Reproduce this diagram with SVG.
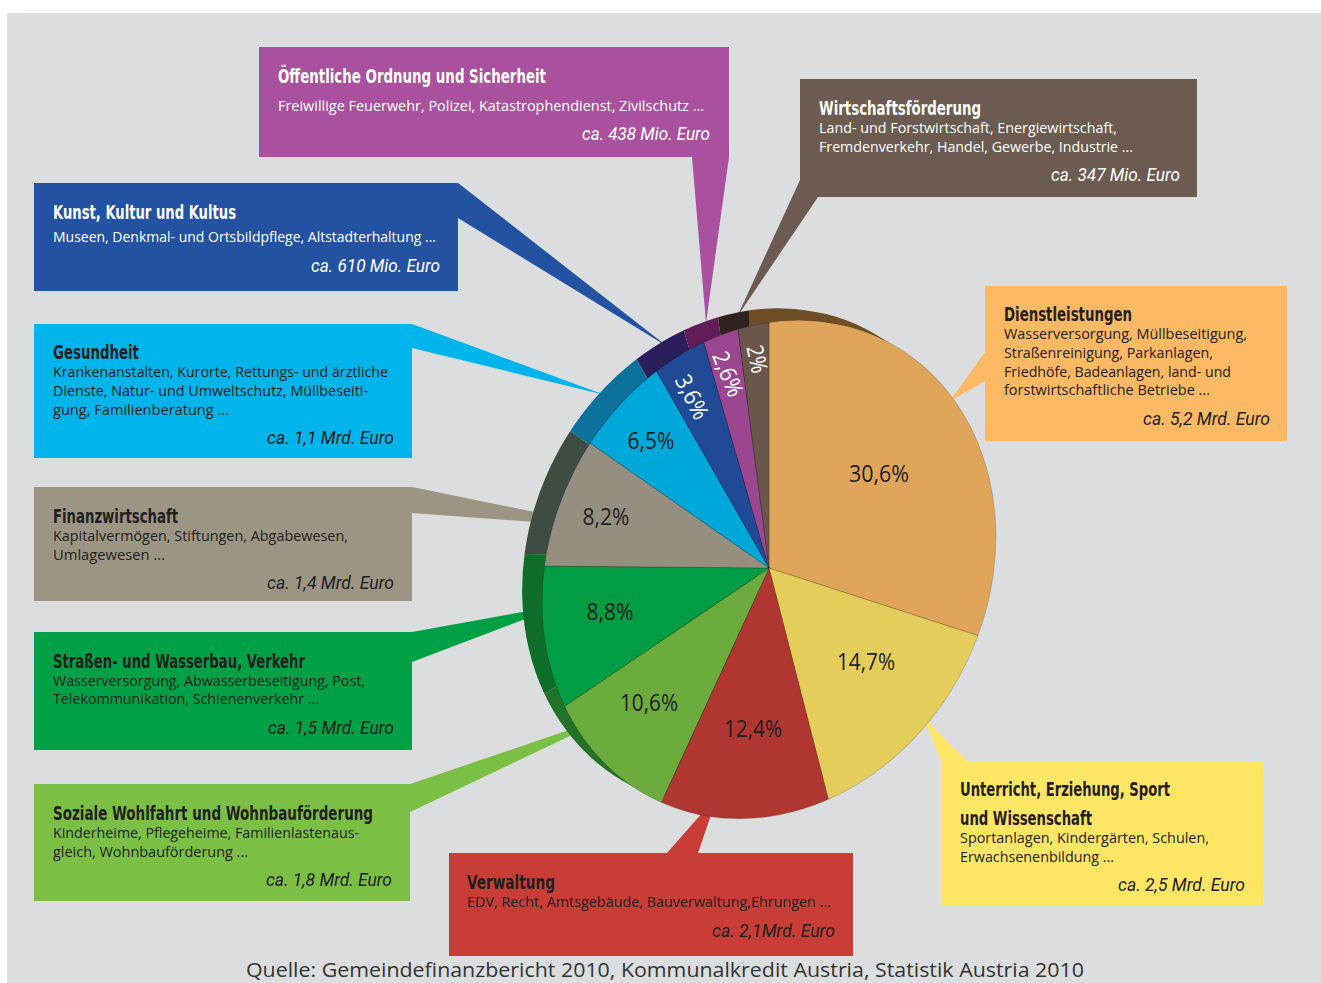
<svg xmlns="http://www.w3.org/2000/svg" width="1321" height="983" viewBox="0 0 1321 983">
<style>
.t{font-family:'Liberation Sans Narrow','DejaVu Sans Condensed',Roboto,sans-serif;font-weight:bold;font-size:19px}
.b{font-family:'Open Sans','Noto Sans',sans-serif;font-size:15px}
.a{font-family:'Liberation Sans Narrow',Roboto,'Open Sans',sans-serif;font-style:italic;font-size:19px;text-anchor:end}
.w{fill:#fff}
.d{fill:#231f20}
.p{font-family:'Open Sans','Noto Sans',sans-serif;font-size:23px;text-anchor:middle}
.sl{stroke:#000;stroke-opacity:0.25;stroke-width:0.8}
</style>
<defs>
<clipPath id="face"><ellipse cx="0" cy="0" rx="218.3" ry="256.7" transform="translate(769 569.5) rotate(27.2)"/></clipPath>
</defs>
<rect x="0" y="0" width="1321" height="983" fill="#ffffff"/>
<rect x="7" y="13" width="1314" height="970" fill="#dcdddf"/>

<g id="connectors">
<polygon points="692,157 729,157 706,323" fill="#a9509e"/>
<polygon points="800,180 800,197 818,197 737,317" fill="#6b5b50"/>
<polygon points="458,183 458,218 668,347" fill="#2352a3"/>
<polygon points="412,324 412,348 605,395" fill="#00b5ec"/>
<polygon points="412,487 412,513 535,522 535,512" fill="#9c9584"/>
<polygon points="412,632 412,662 528,618 528,611" fill="#00a146"/>
<polygon points="410,784 410,812 572,735 572,729" fill="#7bbf45"/>
<polygon points="667,853 698,853 712,812 703,812" fill="#c83e37"/>
<polygon points="924,718 942,763 969,763" fill="#ffe564"/>
<polygon points="985,352 985,381 950,401" fill="#fdb863"/>
</g>

<g id="pie">
<g transform="translate(-20 -12)" clip-path="url(#face)">
<polygon points="769,568 769,199 1045,313 1112.5,511 1084,670" fill="#6f4d26"/>
<polygon points="769,568 1084,670 857.5,913" fill="#b09a3a"/>
<polygon points="769,568 857.5,913 608.5,917.5" fill="#7a2420"/>
<polygon points="769,568 608.5,917.5 463,775" fill="#23722a"/>
<polygon points="769,568 463,775 430,565" fill="#106e2b"/>
<polygon points="769,568 430,565 500.5,380.5" fill="#3f4c42"/>
<polygon points="769,568 500.5,380.5 601,274" fill="#0b729c"/>
<polygon points="769,568 601,274 671.5,230.5" fill="#2a1f5c"/>
<polygon points="769,568 671.5,230.5 722.5,209.5" fill="#621d58"/>
<polygon points="769,568 722.5,209.5 769,199" fill="#302220"/>
</g>
<g clip-path="url(#face)" class="sl">
<polygon points="769,568 769,199 1045,313 1112.5,511 1084,670" fill="#dfa55a"/>
<polygon points="769,568 1084,670 857.5,913" fill="#e4cd5a"/>
<polygon points="769,568 857.5,913 608.5,917.5" fill="#b03731"/>
<polygon points="769,568 608.5,917.5 463,775" fill="#6cac3e"/>
<polygon points="769,568 463,775 430,565" fill="#009d45"/>
<polygon points="769,568 430,565 500.5,380.5" fill="#958f7f"/>
<polygon points="769,568 500.5,380.5 601,274" fill="#00a7d9"/>
<polygon points="769,568 601,274 671.5,230.5" fill="#204a96"/>
<polygon points="769,568 671.5,230.5 722.5,209.5" fill="#9a4690"/>
<polygon points="769,568 722.5,209.5 769,199" fill="#6a574c"/>
</g>
<ellipse cx="0" cy="0" rx="218.3" ry="256.7" transform="translate(769 569.5) rotate(27.2)" fill="none" stroke="#000" stroke-opacity="0.15" stroke-width="1"/>
<text class="p d" x="879" y="482" textLength="60" lengthAdjust="spacingAndGlyphs">30,6%</text>
<text class="p d" x="866" y="670" textLength="58" lengthAdjust="spacingAndGlyphs">14,7%</text>
<text class="p d" x="753" y="737" textLength="58" lengthAdjust="spacingAndGlyphs">12,4%</text>
<text class="p d" x="649" y="711" textLength="58" lengthAdjust="spacingAndGlyphs">10,6%</text>
<text class="p d" x="610" y="620" textLength="47" lengthAdjust="spacingAndGlyphs">8,8%</text>
<text class="p d" x="606" y="525" textLength="47" lengthAdjust="spacingAndGlyphs">8,2%</text>
<text class="p d" x="651" y="449" textLength="47" lengthAdjust="spacingAndGlyphs">6,5%</text>
<g transform="translate(692 397) rotate(63)"><text class="p w" x="0" y="8" textLength="47" lengthAdjust="spacingAndGlyphs">3,6%</text></g>
<g transform="translate(728 374) rotate(68)"><text class="p w" x="0" y="8" textLength="47" lengthAdjust="spacingAndGlyphs">2,6%</text></g>
<g transform="translate(757 359) rotate(78)"><text class="p w" x="0" y="8" textLength="28" lengthAdjust="spacingAndGlyphs">2%</text></g>
</g>

<g id="node-oeffentliche-ordnung">
<rect x="259" y="47" width="470" height="110" fill="#a9509e"/>
<text class="t w" x="278" y="83" textLength="268" lengthAdjust="spacingAndGlyphs">Öffentliche Ordnung und Sicherheit</text>
<text class="b w" x="278" y="111" textLength="426" lengthAdjust="spacingAndGlyphs">Freiwillige Feuerwehr, Polizei, Katastrophendienst, Zivilschutz ...</text>
<text class="a w" x="710" y="140" textLength="128" lengthAdjust="spacingAndGlyphs">ca. 438 Mio. Euro</text>
</g>

<g id="node-wirtschaftsfoerderung">
<rect x="800" y="79" width="397" height="118" fill="#6b5b50"/>
<text class="t w" x="819" y="115" textLength="162" lengthAdjust="spacingAndGlyphs">Wirtschaftsförderung</text>
<text class="b w" x="819" y="133" textLength="298" lengthAdjust="spacingAndGlyphs">Land- und Forstwirtschaft, Energiewirtschaft,</text>
<text class="b w" x="819" y="152" textLength="314" lengthAdjust="spacingAndGlyphs">Fremdenverkehr, Handel, Gewerbe, Industrie ...</text>
<text class="a w" x="1180" y="181" textLength="129" lengthAdjust="spacingAndGlyphs">ca. 347 Mio. Euro</text>
</g>

<g id="node-kunst-kultur">
<rect x="34" y="183" width="424" height="108" fill="#2352a3"/>
<text class="t w" x="53" y="219" textLength="183" lengthAdjust="spacingAndGlyphs">Kunst, Kultur und Kultus</text>
<text class="b w" x="53" y="242" textLength="383" lengthAdjust="spacingAndGlyphs">Museen, Denkmal- und Ortsbildpflege, Altstadterhaltung ...</text>
<text class="a w" x="440" y="272" textLength="129" lengthAdjust="spacingAndGlyphs">ca. 610 Mio. Euro</text>
</g>

<g id="node-gesundheit">
<rect x="34" y="324" width="378" height="134" fill="#00b5ec"/>
<text class="t d" x="53" y="359" textLength="86" lengthAdjust="spacingAndGlyphs">Gesundheit</text>
<text class="b d" x="53" y="377" textLength="335" lengthAdjust="spacingAndGlyphs">Krankenanstalten, Kurorte, Rettungs- und ärztliche</text>
<text class="b d" x="53" y="396" textLength="315" lengthAdjust="spacingAndGlyphs">Dienste, Natur- und Umweltschutz, Müllbeseiti-</text>
<text class="b d" x="53" y="415" textLength="176" lengthAdjust="spacingAndGlyphs">gung, Familienberatung ...</text>
<text class="a d" x="394" y="444" textLength="127" lengthAdjust="spacingAndGlyphs">ca. 1,1 Mrd. Euro</text>
</g>

<g id="node-finanzwirtschaft">
<rect x="34" y="487" width="378" height="114" fill="#9c9584"/>
<text class="t d" x="53" y="523" textLength="125" lengthAdjust="spacingAndGlyphs">Finanzwirtschaft</text>
<text class="b d" x="53" y="541" textLength="295" lengthAdjust="spacingAndGlyphs">Kapitalvermögen, Stiftungen, Abgabewesen,</text>
<text class="b d" x="53" y="560" textLength="112" lengthAdjust="spacingAndGlyphs">Umlagewesen ...</text>
<text class="a d" x="394" y="589" textLength="127" lengthAdjust="spacingAndGlyphs">ca. 1,4 Mrd. Euro</text>
</g>

<g id="node-strassenbau">
<rect x="34" y="632" width="378" height="118" fill="#00a146"/>
<text class="t d" x="53" y="668" textLength="252" lengthAdjust="spacingAndGlyphs">Straßen- und Wasserbau, Verkehr</text>
<text class="b d" x="53" y="686" textLength="312" lengthAdjust="spacingAndGlyphs">Wasserversorgung, Abwasserbeseitigung, Post,</text>
<text class="b d" x="53" y="704" textLength="266" lengthAdjust="spacingAndGlyphs">Telekommunikation, Schienenverkehr ...</text>
<text class="a d" x="394" y="734" textLength="126" lengthAdjust="spacingAndGlyphs">ca. 1,5 Mrd. Euro</text>
</g>

<g id="node-soziale-wohlfahrt">
<rect x="34" y="784" width="376" height="117" fill="#7bbf45"/>
<text class="t d" x="53" y="820" textLength="320" lengthAdjust="spacingAndGlyphs">Soziale Wohlfahrt und Wohnbauförderung</text>
<text class="b d" x="53" y="838" textLength="306" lengthAdjust="spacingAndGlyphs">Kinderheime, Pflegeheime, Familienlastenaus-</text>
<text class="b d" x="53" y="857" textLength="195" lengthAdjust="spacingAndGlyphs">gleich, Wohnbauförderung ...</text>
<text class="a d" x="392" y="886" textLength="126" lengthAdjust="spacingAndGlyphs">ca. 1,8 Mrd. Euro</text>
</g>

<g id="node-verwaltung">
<rect x="449" y="853" width="404" height="103" fill="#c83e37"/>
<text class="t d" x="467" y="889" textLength="88" lengthAdjust="spacingAndGlyphs">Verwaltung</text>
<text class="b d" x="467" y="907" textLength="364" lengthAdjust="spacingAndGlyphs">EDV, Recht, Amtsgebäude, Bauverwaltung,Ehrungen ...</text>
<text class="a d" x="835" y="937" textLength="123" lengthAdjust="spacingAndGlyphs">ca. 2,1Mrd. Euro</text>
</g>

<g id="node-unterricht">
<rect x="941" y="762" width="322" height="143" fill="#ffe564"/>
<text class="t d" x="960" y="796" textLength="210" lengthAdjust="spacingAndGlyphs">Unterricht, Erziehung, Sport</text>
<text class="t d" x="960" y="825" textLength="132" lengthAdjust="spacingAndGlyphs">und Wissenschaft</text>
<text class="b d" x="960" y="843" textLength="249" lengthAdjust="spacingAndGlyphs">Sportanlagen, Kindergärten, Schulen,</text>
<text class="b d" x="960" y="862" textLength="154" lengthAdjust="spacingAndGlyphs">Erwachsenenbildung ...</text>
<text class="a d" x="1245" y="891" textLength="127" lengthAdjust="spacingAndGlyphs">ca. 2,5 Mrd. Euro</text>
</g>

<g id="node-dienstleistungen">
<rect x="985" y="286" width="302" height="155" fill="#fdb863"/>
<text class="t d" x="1004" y="321" textLength="128" lengthAdjust="spacingAndGlyphs">Dienstleistungen</text>
<text class="b d" x="1004" y="339" textLength="243" lengthAdjust="spacingAndGlyphs">Wasserversorgung, Müllbeseitigung,</text>
<text class="b d" x="1004" y="358" textLength="209" lengthAdjust="spacingAndGlyphs">Straßenreinigung, Parkanlagen,</text>
<text class="b d" x="1004" y="377" textLength="227" lengthAdjust="spacingAndGlyphs">Friedhöfe, Badeanlagen, land- und</text>
<text class="b d" x="1004" y="395" textLength="206" lengthAdjust="spacingAndGlyphs">forstwirtschaftliche Betriebe ...</text>
<text class="a d" x="1270" y="425" textLength="127" lengthAdjust="spacingAndGlyphs">ca. 5,2 Mrd. Euro</text>
</g>

<text x="246" y="977" font-family="'Open Sans','Noto Sans',sans-serif" font-size="20" fill="#333333" textLength="838" lengthAdjust="spacingAndGlyphs">Quelle: Gemeindefinanzbericht 2010, Kommunalkredit Austria, Statistik Austria 2010</text>
</svg>
